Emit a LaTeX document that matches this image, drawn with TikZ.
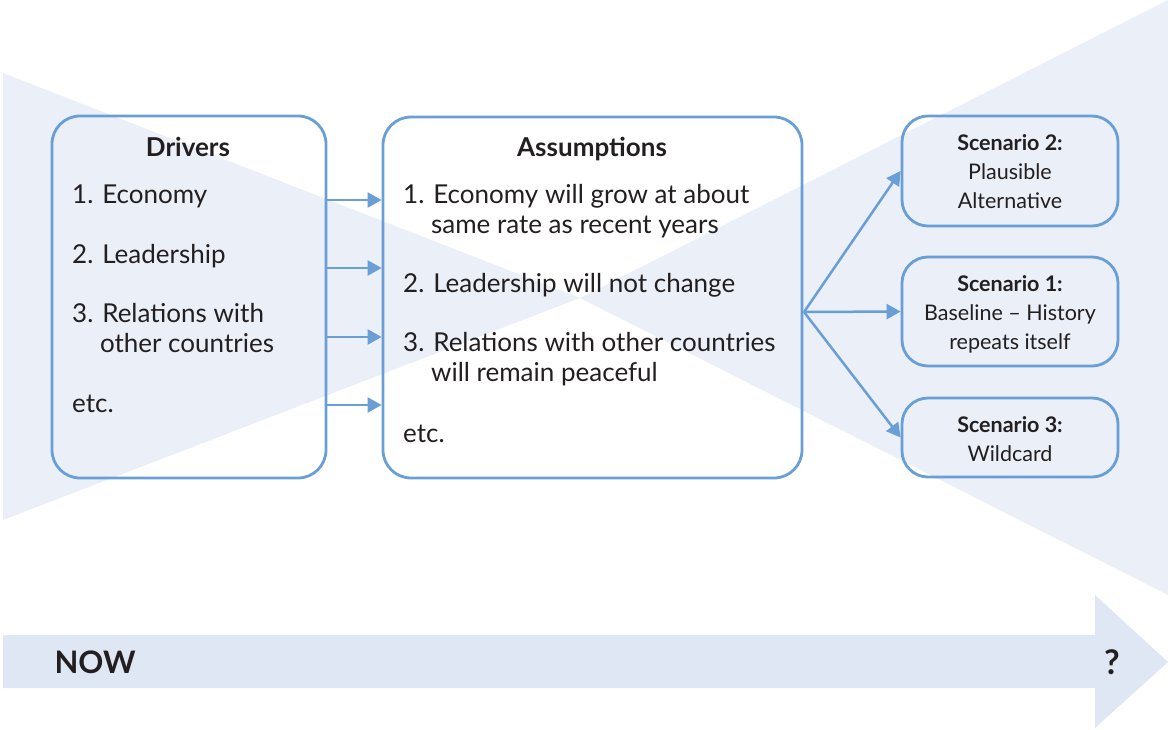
\documentclass[tikz,border=0pt]{standalone}
\usepackage{fontspec}
\setmainfont{Lato}
\usetikzlibrary{arrows.meta,positioning}
\definecolor{edgeblue}{HTML}{6A9FD6}
\definecolor{fanblue}{HTML}{EAEFF8}
\definecolor{timeblue}{HTML}{DFE6F4}
\definecolor{ink}{HTML}{231F20}
\begin{document}
\begin{tikzpicture}[
    x=1pt, y=-1pt,
    box/.style = {draw=edgeblue, line width=2.8pt, rounded corners=28pt, inner sep=0pt},
    link/.style = {draw=edgeblue, line width=2.5pt, -{Triangle[length=14pt,width=15pt]}},
    item/.style = {anchor=base west, text=ink, inner sep=0pt, align=left,
                   font=\fontsize{26}{30}\selectfont},
    head/.style = {anchor=base, text=ink, inner sep=0pt,
                   font=\fontsize{26}{30}\selectfont\bfseries},
    scen/.style = {text=ink, inner sep=0pt, align=center,
                   font=\fontsize{21.5}{29}\selectfont}
    ]
    \useasboundingbox (0,0) rectangle (1168,729);
    % background funnel and time line
    \fill[fanblue] (3,73) -- (580,298) -- (3,520) -- cycle;
    \fill[fanblue] (580,298) -- (1168,0) -- (1168,595) -- cycle;
    \fill[timeblue] (3,635) -- (1095,635) -- (1095,595) -- (1168,662)
      -- (1095,728) -- (1095,688) -- (3,688) -- cycle;
    \node[anchor=base west, text=ink, font=\fontsize{31}{31}\selectfont\bfseries] (now) at (51,673) {NOW};
    \node[anchor=base, text=ink, font=\fontsize{34}{34}\selectfont\bfseries] (later) at (1112,674) {?};

    % boxes
    \node[box, minimum width=274pt, minimum height=362pt] (drv) at (189,297) {};
    \node[box, minimum width=419pt, minimum height=361pt] (asm) at (592.5,297.5) {};
    \node[box, minimum width=216pt, minimum height=110pt, rounded corners=26pt] (sc2) at (1010,171) {};
    \node[box, minimum width=216pt, minimum height=109pt, rounded corners=26pt] (sc1) at (1010,311.5) {};
    \node[box, minimum width=216pt, minimum height=79pt, rounded corners=26pt] (sc3) at (1010,437.5) {};

    % drivers (base = last line)
    \node[head] (drvT) at (188,156) {Drivers};
    \node[item] (d1) at (72,203) {1. Economy};
    \node[item] (d2) at (72,263) {2. Leadership};
    \node[item] (d3) at (72,352) {3. Relations with\\\hphantom{3.} other countries};
    \node[item] (d4) at (72,412) {etc.};

    % assumptions
    \node[head] (asmT) at (592,156) {Assumptions};
    \node[item] (a1) at (403,233) {1. Economy will grow at about\\\hphantom{1.} same rate as recent years};
    \node[item] (a2) at (403,292) {2. Leadership will not change};
    \node[item] (a3) at (403,381) {3. Relations with other countries\\\hphantom{3.} will remain peaceful};
    \node[item] (a4) at (403,442) {etc.};

    % scenarios
    \node[scen] (sc2T) at (1010,172) {\textbf{Scenario 2:}\\Plausible\\Alternative};
    \node[scen] (sc1T) at (1010,314) {\textbf{Scenario 1:}\\Baseline -- History\\repeats itself};
    \node[scen] (sc3T) at (1010,439) {\textbf{Scenario 3:}\\Wildcard};

    % arrows
    \foreach \h in {200,268,337,405}
      \draw[link] (drv.east |- 0,\h) -- (asm.west |- 0,\h);
    \coordinate (fan) at (804,312);
    \draw[link] (fan) -- (sc2.west);
    \draw[link] (fan) -- (sc1.west);
    \draw[link] (fan) -- (sc3.west);
  \end{tikzpicture}
\end{document}
